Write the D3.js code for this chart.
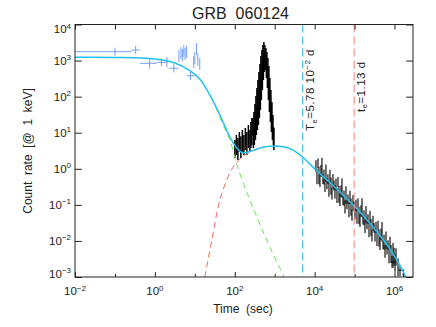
<!DOCTYPE html>
<html>
<head>
<meta charset="utf-8">
<script src="https://cdn.jsdelivr.net/npm/d3@7"></script>
<style>
  html, body { margin: 0; padding: 0; background: #fff; }
  svg { display: block; font-family: "Liberation Sans", Arial, Helvetica, sans-serif; }
  text { white-space: pre; fill: #222; }
</style>
</head>
<body>
<svg id="chart" width="436" height="327"></svg>
<script>
// GRB 060124 X-ray light curve, count rate at 1 keV vs time since trigger.

const xDomain = [1e-2, 2.9e6];
const yDomain = [1e-3, 1e4];
const xLabelExps = [-2, 0, 2, 4, 6];
const xMinorExps = [-1, 1, 3, 5];
const yLabelExps = [-3, -2, -1, 0, 1, 2, 3, 4];

// BAT-like points: [t, tLo, tHi, rate, rateLo, rateHi]
const batPoints = [
  [0.1, 0.01, 0.26, 1760, 1370, 2270],
  [0.33, 0.26, 0.42, 1960, 1530, 2520],
  [0.74, 0.42, 1.1, 840, 600, 1180],
  [1.46, 1.1, 1.9, 895, 700, 1150],
  [2.0, 1.9, 2.1, 910, 660, 1250],
  [2.98, 2.3, 3.9, 611, 470, 790],
  [7.8, 6.3, 9.9, 380, 290, 490],
  [4.0, 3.95, 4.05, 1340, 913, 1963],
  [4.5, 4.45, 4.55, 1620, 1100, 2380],
  [4.9, 4.85, 4.95, 1430, 970, 2090],
  [5.3, 5.25, 5.35, 1840, 1260, 2700],
  [5.7, 5.65, 5.75, 1520, 1040, 2230],
  [6.2, 6.15, 6.25, 1730, 1180, 2540],
  [9.4, 9.3, 9.5, 913, 622, 1340],
  [10.0, 9.9, 10.1, 1180, 800, 1730],
  [11.0, 10.9, 11.1, 2090, 1430, 3070],
  [11.9, 11.8, 12.0, 1040, 710, 1520],
  [13.3, 13.2, 13.4, 800, 550, 1180]
];

// XRT flare points: [t, rate, rateLo, rateHi]
const flarePoints = [
  [100.6, 3.5, 1.99, 6.28], [109.7, 4.56, 2.41, 8.64], [119.6, 3.32, 1.75, 7.13],
  [130.4, 5.53, 2.92, 10.5], [142.2, 3.77, 1.99, 8.0], [155.0, 6.28, 2.92, 11.9],
  [169.1, 4.56, 2.41, 8.64], [184.4, 7.13, 3.32, 13.5], [201.1, 5.2, 2.41, 10.5],
  [219.3, 8.0, 3.77, 16.4], [239.1, 6.28, 2.92, 11.9], [253.3, 8.64, 3.77, 19.8],
  [268.4, 11.9, 4.56, 25.6],
  [284, 14.4, 8.1, 25.6], [293, 6.7, 3.77, 11.9],
  [301, 19.8, 10.5, 37.5], [310, 8.6, 4.56, 16.4],
  [319, 31, 15.4, 62.5], [329, 12.7, 6.28, 25.6],
  [338, 50, 24, 104], [348, 18.1, 8.64, 37.5],
  [358, 77.6, 35.2, 174], [369, 26.5, 11.9, 58.6],
  [379, 121, 51.8, 289], [391, 38.8, 16.4, 91.7],
  [402, 197, 80.7, 482], [414, 62.5, 25.6, 153],
  [426, 329, 135, 804], [438, 104, 42.6, 255],
  [451, 584, 255, 1339], [464, 186, 80.7, 424],
  [478, 913, 424, 1964], [492, 329, 153, 707],
  [506, 1380, 707, 2703], [521, 565, 289, 1105],
  [536, 1780, 970, 3280], [552, 880, 482, 1620],
  [568, 1670, 1037, 2703], [585, 880, 548, 1427],
  [602, 1260, 707, 2231], [620, 584, 329, 1037],
  [638, 858, 424, 1729], [656, 350, 174, 707],
  [676, 530, 239, 1178], [695, 180, 80.7, 398],
  [716, 289, 119, 707], [737, 91.7, 37.5, 224],
  [758, 144, 62.5, 329], [780, 45.4, 19.8, 104],
  [803, 68.9, 31.0, 153], [827, 23.3, 10.5, 51.8],
  [851, 34.4, 16.4, 71.0], [876, 13.1, 6.28, 27.3],
  [902, 17.5, 9.9, 31.0], [928, 8.1, 4.56, 14.4],
  [955, 6.7, 3.32, 13.5]
];

// late XRT points: [t, rate, err]
const latePoints = [
  [10780, 1.273, 0.45], [11420, 0.68, 0.31], [12100, 1.49, 0.45], [12820, 0.755, 0.38],
  [13580, 0.521, 0.21], [14380, 0.937, 0.33], [15240, 1.31, 0.72], [16140, 0.54, 0.16],
  [17100, 0.66, 0.30], [18120, 0.378, 0.15], [19190, 0.88, 0.44], [20330, 0.414, 0.145],
  [21540, 0.54, 0.16], [22820, 0.308, 0.14], [24170, 0.672, 0.27], [25620, 0.38, 0.19],
  [27140, 0.216, 0.076], [28750, 0.498, 0.22], [30460, 0.362, 0.11], [32270, 0.25, 0.10],
  [34180, 0.39, 0.14], [36210, 0.206, 0.093], [38360, 0.452, 0.14], [40640, 0.224, 0.11],
  [43060, 0.155, 0.062], [45610, 0.256, 0.09], [48320, 0.348, 0.19], [51190, 0.142, 0.043],
  [54230, 0.172, 0.077], [57450, 0.096, 0.038], [60860, 0.218, 0.11], [64480, 0.115, 0.040],
  [68310, 0.15, 0.045], [72360, 0.082, 0.037], [76660, 0.176, 0.07], [81230, 0.0996, 0.05],
  [86050, 0.0564, 0.02], [91160, 0.13, 0.059], [96580, 0.095, 0.029], [102300, 0.065, 0.026],
  [108400, 0.103, 0.036], [114800, 0.054, 0.024], [121600, 0.118, 0.035], [128900, 0.058, 0.029],
  [136500, 0.0405, 0.016], [144600, 0.0719, 0.025], [153200, 0.099, 0.054], [162300, 0.0405, 0.012],
  [172000, 0.049, 0.022], [182200, 0.0276, 0.011], [193000, 0.062, 0.031], [204500, 0.0326, 0.0114],
  [216600, 0.042, 0.0126], [229500, 0.0231, 0.0104], [243100, 0.049, 0.0196], [257600, 0.027, 0.0135],
  [272900, 0.015, 0.0053], [289100, 0.0345, 0.0155], [306300, 0.0241, 0.0072], [324500, 0.0162, 0.0065],
  [343800, 0.0251, 0.0088], [364200, 0.0131, 0.0059], [385800, 0.0279, 0.0084], [408700, 0.0138, 0.0069],
  [433000, 0.0093, 0.0037], [458700, 0.0163, 0.0057], [486000, 0.0217, 0.012], [514800, 0.0086, 0.0026],
  [545400, 0.0102, 0.0046], [577800, 0.0056, 0.0022], [612100, 0.0122, 0.0061], [648500, 0.0064, 0.0022],
  [687000, 0.0081, 0.0024], [727800, 0.0044, 0.002], [771000, 0.0093, 0.0037], [816800, 0.0051, 0.0026],
  [865300, 0.0028, 0.001], [916700, 0.0061, 0.0027], [971200, 0.0043, 0.0022], [1028900, 0.0029, 0.0015],
  [1090000, 0.0042, 0.0021], [1223400, 0.00215, 0.0011]
];

// last binned points with time bars: [t, tLo, tHi, rate, err]
const tailPoints = [
  [916700, 800000, 1050000, 0.0026, 0.0008],
  [1373000, 1250000, 1500000, 0.00155, 0.0005],
  [1680000, 1560000, 1800000, 0.0012, 0.0004]
];

// total model (cyan)
const modelT = [0.01, 0.1, 1, 3.16, 7.5, 13.3, 23.8, 42.4, 75.4, 113, 151, 239, 478, 1012,
  2404, 4887, 10780, 24170, 57450, 136500, 324500, 771000, 1373000, 1940000];
const modelRate = [1230, 1220, 1100, 860, 530, 310, 110, 31, 7.6, 3.77, 2.83, 3.0, 3.89, 4.28,
  3.62, 2.16, 0.925, 0.415, 0.165, 0.0633, 0.0207, 0.00596, 0.00207, 0.00094];

// prompt component (green dashed)
const promptT = [20, 31.7, 47.5, 75.4, 120, 239, 426, 758, 1702, 2200];
const promptRate = [160, 58.6, 19.8, 6.28, 1.05, 0.136, 0.0294, 0.00678, 0.001, 0.0005];

// afterglow component (red dashed)
const afterglowT = [17.8, 26.7, 42.4, 75.4, 113, 179, 319, 567];
const afterglowRate = [0.001, 0.0106, 0.136, 0.764, 1.54, 2.41, 3.32, 4.02];

// characteristic times (seconds): 5.78e-2 d and 1.13 d
const breakTimes = [4994, 97632];

const svg = d3.select('#chart');
const plot = { left: 75, right: 413, top: 24.5, bottom: 277 };

const x = d3.scaleLog().domain(xDomain).range([plot.left, plot.right]);
const y = d3.scaleLog().domain(yDomain).range([plot.bottom, plot.top]);

svg.append('defs').append('clipPath').attr('id', 'plot-clip')
  .append('rect')
  .attr('x', plot.left).attr('y', plot.top)
  .attr('width', plot.right - plot.left).attr('height', plot.bottom - plot.top);

const layer = svg.append('g').attr('clip-path', 'url(#plot-clip)');

// blue points
const batG = layer.append('g').attr('stroke', '#5d8dff').attr('stroke-width', 1).attr('opacity', 0.85);
batPoints.forEach(([t, tLo, tHi, r, rLo, rHi]) => {
  batG.append('line').attr('x1', x(tLo)).attr('x2', x(tHi)).attr('y1', y(r)).attr('y2', y(r));
  batG.append('line').attr('x1', x(t)).attr('x2', x(t)).attr('y1', y(rLo)).attr('y2', y(rHi));
});

// black XRT points
const xrtG = layer.append('g').attr('stroke', '#000');
flarePoints.forEach(([t, r, rLo, rHi]) => {
  xrtG.append('line').attr('stroke-width', 1.5)
    .attr('x1', x(t)).attr('x2', x(t)).attr('y1', y(rLo)).attr('y2', y(rHi));
});
latePoints.forEach(([t, r, e]) => {
  xrtG.append('line').attr('stroke-width', 1.1)
    .attr('x1', x(t)).attr('x2', x(t)).attr('y1', y(r - e)).attr('y2', y(r + e));
});
tailPoints.forEach(([t, tLo, tHi, r, e]) => {
  xrtG.append('line').attr('x1', x(tLo)).attr('x2', x(tHi)).attr('y1', y(r)).attr('y2', y(r));
  xrtG.append('line').attr('x1', x(t)).attr('x2', x(t)).attr('y1', y(r - e)).attr('y2', y(r + e));
});

// model curves
const line = d3.line()
  .curve(d3.curveCatmullRom.alpha(0.5))
  .x(d => x(d[0]))
  .y(d => y(d[1]));

layer.append('path')
  .datum(promptT.map((t, i) => [t, promptRate[i]]))
  .attr('d', line).attr('fill', 'none')
  .attr('stroke', '#6fe05a').attr('stroke-width', 1).attr('stroke-dasharray', '6,4');

layer.append('path')
  .datum(afterglowT.map((t, i) => [t, afterglowRate[i]]))
  .attr('d', line).attr('fill', 'none')
  .attr('stroke', '#f26a5a').attr('stroke-width', 1).attr('stroke-dasharray', '6,4');

layer.append('path')
  .datum(modelT.map((t, i) => [t, modelRate[i]]))
  .attr('d', line).attr('fill', 'none')
  .attr('stroke', '#1ec3f2').attr('stroke-width', 1.5);

// vertical markers
const markerColors = ['#3fcaf5', '#ff8f8f'];
breakTimes.forEach((t, i) => {
  svg.append('line')
    .attr('x1', x(t)).attr('x2', x(t)).attr('y1', plot.top).attr('y2', plot.bottom)
    .attr('stroke', markerColors[i]).attr('stroke-width', 1.2).attr('stroke-dasharray', '8,4');
});

const lab1 = svg.append('text')
  .attr('transform', `translate(${x(breakTimes[0]) + 11.5},131) rotate(-90)`)
  .attr('font-size', 11.5).attr('letter-spacing', 0.5);
lab1.append('tspan').text('T');
lab1.append('tspan').attr('font-size', 7.5).attr('dy', 2.5).text('e');
lab1.append('tspan').attr('dy', -2.5).text('=5.78 10');
lab1.append('tspan').attr('font-size', 8).attr('dy', -4.5).text('\u22122');
lab1.append('tspan').attr('dy', 4.5).text(' d');

const lab2 = svg.append('text')
  .attr('transform', `translate(${x(breakTimes[1]) + 10.5},112) rotate(-90)`)
  .attr('font-size', 11.5).attr('letter-spacing', 0.5);
lab2.append('tspan').text('t');
lab2.append('tspan').attr('font-size', 7.5).attr('dy', 2.5).text('e');
lab2.append('tspan').attr('dy', -2.5).text('=1.13 d');

// axes (ticks point inwards)
const xMajor = xLabelExps.map(e => Math.pow(10, e));
const xMinor = xMinorExps.map(e => Math.pow(10, e));
const yMajor = yLabelExps.map(e => Math.pow(10, e));

const axes = svg.append('g').attr('class', 'axes');
function addAxis(axis, transform) {
  const g = axes.append('g').attr('transform', transform).call(axis);
  g.select('.domain').remove();
  g.selectAll('text').remove();
  g.selectAll('line').attr('stroke', '#222');
}
addAxis(d3.axisBottom(x).tickValues(xMajor).tickSizeInner(-5).tickSizeOuter(0), `translate(0,${plot.bottom})`);
addAxis(d3.axisBottom(x).tickValues(xMinor).tickSizeInner(-3).tickSizeOuter(0), `translate(0,${plot.bottom})`);
addAxis(d3.axisTop(x).tickValues(xMajor.concat(xMinor)).tickSizeInner(-5).tickSizeOuter(0), `translate(0,${plot.top})`);
addAxis(d3.axisLeft(y).tickValues(yMajor).tickSizeInner(-6.8).tickSizeOuter(0), `translate(${plot.left},0)`);
addAxis(d3.axisRight(y).tickValues(yMajor).tickSizeInner(-6.8).tickSizeOuter(0), `translate(${plot.right},0)`);

svg.append('rect')
  .attr('x', plot.left).attr('y', plot.top)
  .attr('width', plot.right - plot.left).attr('height', plot.bottom - plot.top)
  .attr('fill', 'none').attr('stroke', '#222').attr('stroke-width', 1);

function powerLabel(sel, e) {
  sel.append('tspan').text('10');
  sel.append('tspan').attr('font-size', 8).attr('dy', -4.5).text(e < 0 ? '\u2212' + (-e) : String(e));
}

xLabelExps.forEach(e => {
  const t = svg.append('text')
    .attr('x', x(Math.pow(10, e))).attr('y', 295)
    .attr('text-anchor', 'middle').attr('font-size', 11.5);
  powerLabel(t, e);
});

yLabelExps.forEach(e => {
  const ty = y(Math.pow(10, e));
  const base = Math.min(Math.max(ty + 4, plot.top + 8.5), plot.bottom + 0.5);
  const t = svg.append('text')
    .attr('x', 71).attr('y', base)
    .attr('text-anchor', 'end').attr('font-size', 11.5);
  powerLabel(t, e);
});

svg.append('text')
  .attr('x', 240.5).attr('y', 18.5)
  .attr('text-anchor', 'middle').attr('font-size', 16)
  .text('GRB  060124');

svg.append('text')
  .attr('x', 243).attr('y', 313)
  .attr('text-anchor', 'middle').attr('font-size', 12)
  .text('Time  (sec)');

svg.append('text')
  .attr('transform', 'translate(32,151) rotate(-90)')
  .attr('text-anchor', 'middle').attr('font-size', 12)
  .text('Count  rate  [@  1  keV]');
</script>
</body>
</html>
